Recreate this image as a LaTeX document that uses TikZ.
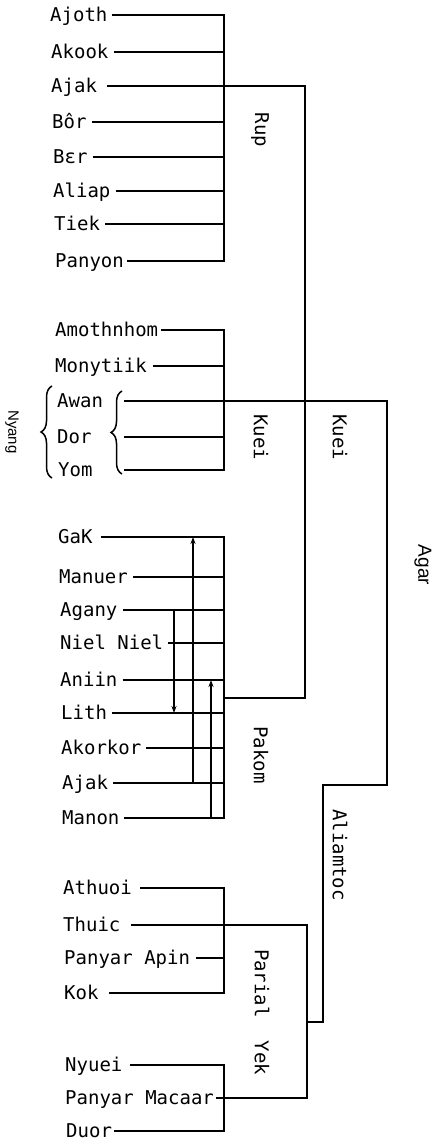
\documentclass[tikz,border=0pt]{standalone}
\usepackage{fontspec}
\setmonofont{DejaVu Sans Mono}
\newfontfamily\labfont{Liberation Sans}
\usetikzlibrary{arrows.meta,decorations.pathreplacing}
\begin{document}
\begin{tikzpicture}[x=1pt,y=-1pt,
 lbl/.style={anchor=west,inner sep=0pt,font=\fontsize{19}{19}\selectfont\ttfamily,text height=13.9pt,text depth=0pt},
 vlbl/.style={rotate=-90,inner sep=0pt,font=\fontsize{19}{19}\selectfont\ttfamily},
 slbl/.style={rotate=-90,inner sep=0pt},
 ln/.style={line width=1.7pt},
 arr/.style={line width=1.3pt,-{Stealth[length=7pt,width=5pt]}},
 brc/.style={line width=1.5pt,decorate,decoration={brace,amplitude=11pt}}]
\useasboundingbox (0,0) rectangle (432,1142);
% x positions
\coordinate (xbar) at (224,0);
\coordinate (xkuei) at (305,0);
\coordinate (xagar) at (387,0);
\coordinate (xaliam) at (323,0);
\coordinate (xpy) at (307,0);
\coordinate (xlin) at (124,0);
\coordinate (xa1) at (193,0);
\coordinate (xa2) at (174,0);
\coordinate (xa3) at (211,0);
\coordinate (pakomj) at (224,698);
\coordinate (agarb) at (387,785);
\coordinate (aliamb) at (323,1022);
% Rup
\node[lbl] (ajoth) at (50,15) {Ajoth};
\node[lbl] (akook) at (51,52) {Akook};
\node[lbl] (ajaka) at (51,86) {Ajak};
\node[lbl] (bor) at (52,122) {Bôr};
\node[lbl] (ber) at (53,157) {Bɛr};
\node[lbl] (aliap) at (53,191) {Aliap};
\node[lbl] (tiek) at (54,224) {Tiek};
\node[lbl] (panyon) at (55,261) {Panyon};
\draw[ln] ([xshift=4pt]ajoth.east) -- (ajoth -| xbar) -- (panyon -| xbar) -- ([xshift=3pt]panyon.east);
\foreach \n in {akook,bor,ber,aliap,tiek} \draw[ln] ([xshift=5pt]\n.east) -- (\n -| xbar);
\draw[ln] ([xshift=10pt]ajaka.east) -- (ajaka -| xkuei) -- (pakomj -| xkuei) -- (pakomj);
% Kuei
\node[lbl] (amoth) at (55,330) {Amothnhom};
\node[lbl] (monyt) at (55,366) {Monytiik};
\node[lbl] (awan) at (57,401) {Awan};
\node[lbl] (dor) at (57,437) {Dor};
\node[lbl] (yom) at (58,470) {Yom};
\draw[ln] ([xshift=3pt]amoth.east) -- (amoth -| xbar) -- (yom -| xbar) -- (yom -| xlin);
\draw[ln] ([xshift=6pt]monyt.east) -- (monyt -| xbar);
\draw[ln] (dor -| xlin) -- (dor -| xbar);
\draw[ln] (awan -| xlin) -- (awan -| xagar) -- (agarb) -- (agarb -| xaliam) -- (aliamb) -- (aliamb -| xpy);
\draw[brc] (52,478) -- (52,386);
\draw[brc] (122,474) -- (122,391);
% Pakom
\node[lbl] (gak) at (58,537) {GaK};
\node[lbl] (manuer) at (59,577) {Manuer};
\node[lbl] (agany) at (60,610) {Agany};
\node[lbl] (niel) at (60,643) {Niel Niel};
\node[lbl] (aniin) at (60,680) {Aniin};
\node[lbl] (lith) at (61,713) {Lith};
\node[lbl] (akork) at (61,748) {Akorkor};
\node[lbl] (ajakb) at (62,783) {Ajak};
\node[lbl] (manon) at (62,818) {Manon};
\draw[ln] ([xshift=8pt]gak.east) -- (gak -| xbar) -- (manon -| xbar) -- ([xshift=4pt]manon.east);
\foreach \n in {manuer,agany,niel,aniin,lith,akork,ajakb} \draw[ln] ([xshift=5pt]\n.east) -- (\n -| xbar);
\draw[arr] (ajakb -| xa1) -- (gak -| xa1);
\draw[arr] (agany -| xa2) -- (lith -| xa2);
\draw[arr] (manon -| xa3) -- (aniin -| xa3);
% Parial / Yek
\node[lbl] (athuoi) at (63,888) {Athuoi};
\node[lbl] (thuic) at (63,925) {Thuic};
\node[lbl] (papin) at (64,958) {Panyar Apin};
\node[lbl] (kok) at (64,993) {Kok};
\node[lbl] (nyuei) at (65,1065) {Nyuei};
\node[lbl] (pmac) at (65,1098) {Panyar Macaar};
\node[lbl] (duor) at (66,1131) {Duor};
\draw[ln] ([xshift=8pt]athuoi.east) -- (athuoi -| xbar) -- (kok -| xbar) -- ([xshift=10pt]kok.east);
\draw[ln] ([xshift=6pt]papin.east) -- (papin -| xbar);
\draw[ln] ([xshift=10pt]thuic.east) -- (thuic -| xpy) -- (pmac -| xpy) -- ([xshift=2pt]pmac.east);
\draw[ln] ([xshift=7pt]nyuei.east) -- (nyuei -| xbar) -- (duor -| xbar) -- ([xshift=2pt]duor.east);
% vertical labels
\node[vlbl] (rup) at (260,130) {Rup};
\node[vlbl] (kueia) at (261,437) {Kuei};
\node[vlbl] (kueib) at (340,437) {Kuei};
\node[vlbl] (pakom) at (261,755) {Pakom};
\node[vlbl] (aliam) at (340,855) {Aliamtoc};
\node[vlbl] (parial) at (262,1012) {Parial\ \ Yek};
\node[slbl,font=\labfont] (agar) at (423,565) {\fontsize{19}{21}\selectfont Agar};
\node[slbl,font=\labfont] (nyang) at (12,432) {\fontsize{15}{17}\selectfont Nyang};
\end{tikzpicture}
\end{document}
